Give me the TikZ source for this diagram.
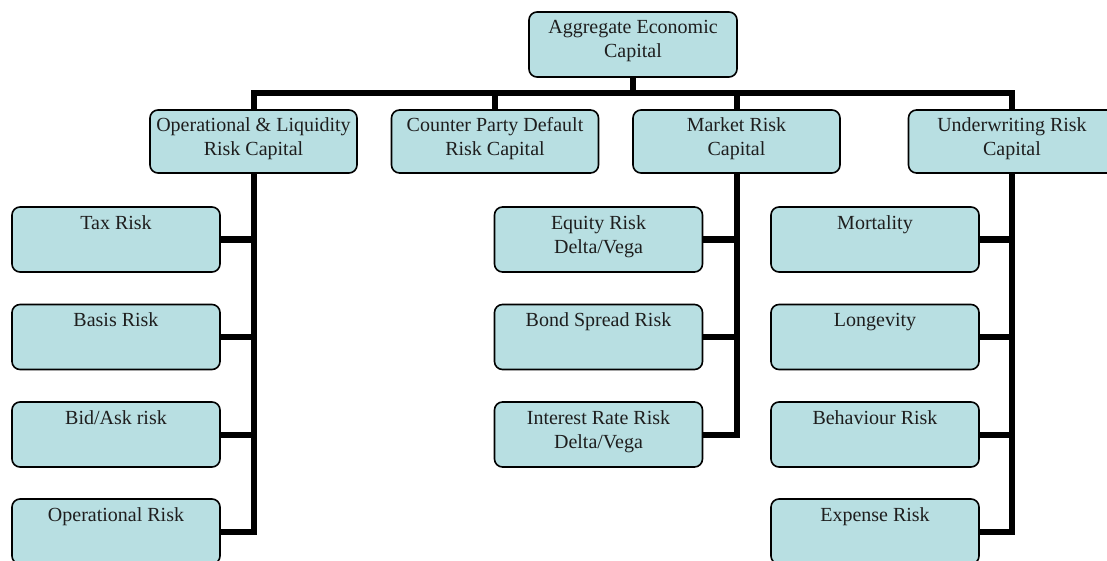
\documentclass[tikz,border=0pt]{standalone}
\usepackage{fontspec}
\setmainfont{Liberation Serif}
\usetikzlibrary{backgrounds}
\definecolor{boxfill}{RGB}{184,223,226}
\definecolor{txt}{RGB}{30,30,30}
\newcommand{\boxtext}[3]{\parbox[c][#2pt][t]{#1pt}{\centering\fontsize{20}{24}\selectfont\rule{0pt}{22pt}#3}}
\tikzset{
  riskbox/.style={draw=black, line width=1.6pt, rounded corners=8pt, fill=boxfill,
    inner sep=0pt, text=txt},
  conn/.style={draw=black, line width=6pt, line join=miter, line cap=butt}
}
\begin{document}
\begin{tikzpicture}[x=1pt,y=-1pt]
\useasboundingbox (0,0) rectangle (1107,561);
\clip (0,0) rectangle (1107,561);
% level 0
\node[riskbox] (top) at (633,44.5) {\boxtext{208}{65}{Aggregate Economic\\Capital}};
% level 1
\node[riskbox] (op) at (253.5,141.5) {\boxtext{207}{63}{Operational \& Liquidity\\Risk Capital}};
\node[riskbox] (cp) at (495,141.5) {\boxtext{207}{63}{Counter Party Default\\Risk Capital}};
\node[riskbox] (mk) at (736.5,141.5) {\boxtext{207}{63}{Market Risk\\Capital}};
\node[riskbox] (uw) at (1012,141.5) {\boxtext{207}{63}{Underwriting Risk\\Capital}};
% level 2 left
\node[riskbox] (tax) at (116,239.5) {\boxtext{208}{65}{Tax Risk}};
\node[riskbox] (basis) at (116,337) {\boxtext{208}{65}{Basis Risk}};
\node[riskbox] (bid) at (116,434.5) {\boxtext{208}{65}{Bid/Ask risk}};
\node[riskbox] (oprisk) at (116,531.5) {\boxtext{208}{65}{Operational Risk}};
% level 2 market
\node[riskbox] (eq) at (598.5,239.5) {\boxtext{208}{65}{Equity Risk\\Delta/Vega}};
\node[riskbox] (bond) at (598.5,337) {\boxtext{208}{65}{Bond Spread Risk}};
\node[riskbox] (ir) at (598.5,434.5) {\boxtext{208}{65}{Interest Rate Risk\\Delta/Vega}};
% level 2 underwriting
\node[riskbox] (mort) at (875,239.5) {\boxtext{208}{65}{Mortality}};
\node[riskbox] (long) at (875,337) {\boxtext{208}{65}{Longevity}};
\node[riskbox] (beh) at (875,434.5) {\boxtext{208}{65}{Behaviour Risk}};
\node[riskbox] (exp) at (875,531.5) {\boxtext{208}{65}{Expense Risk}};
\coordinate (bar) at (0,93);
\begin{scope}[on background layer]
\draw[conn] (op.north) -- (op.north |- bar) -- (uw.north |- bar) -- (uw.north);
\draw[conn] (top.south) -- (top.south |- bar);
\draw[conn] (cp.north) -- (cp.north |- bar);
\draw[conn] (mk.north) -- (mk.north |- bar);
% operational trunk
\draw[conn] (op.south) -- (op.south |- oprisk.east) -- (oprisk.east);
\draw[conn] (tax.east) -- (tax.east -| op.south);
\draw[conn] (basis.east) -- (basis.east -| op.south);
\draw[conn] (bid.east) -- (bid.east -| op.south);
% market trunk
\draw[conn] (mk.south) -- (mk.south |- ir.east) -- (ir.east);
\draw[conn] (eq.east) -- (eq.east -| mk.south);
\draw[conn] (bond.east) -- (bond.east -| mk.south);
% underwriting trunk
\draw[conn] (uw.south) -- (uw.south |- exp.east) -- (exp.east);
\draw[conn] (mort.east) -- (mort.east -| uw.south);
\draw[conn] (long.east) -- (long.east -| uw.south);
\draw[conn] (beh.east) -- (beh.east -| uw.south);
\end{scope}
\end{tikzpicture}
\end{document}
